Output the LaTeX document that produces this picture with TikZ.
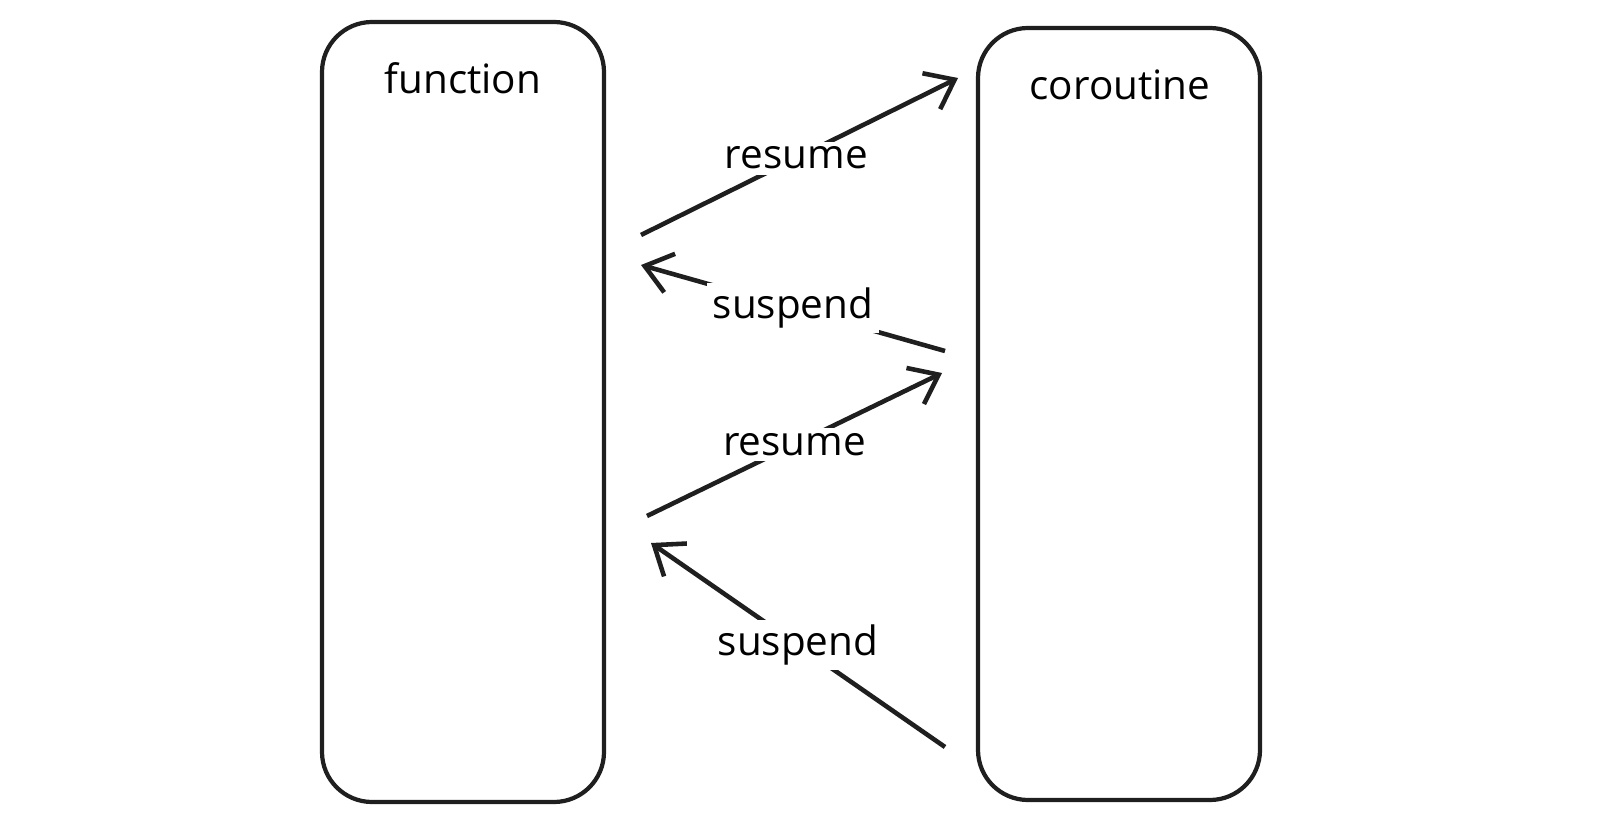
\documentclass[tikz,border=0pt]{standalone}
\usepackage{fontspec}
\setmainfont{Open Sans}
\usetikzlibrary{arrows.meta}
\begin{document}
\begin{tikzpicture}[x=0.01cm,y=-0.01cm,
  box/.style={draw=black!88,line width=1.2pt,rounded corners=0.5cm},
  flow/.style={draw=black!88,line width=1.3pt,-{Straight Barb[length=0.26cm,width=0.4cm,line width=1.3pt]}},
  lbl/.style={fill=white,inner sep=1.5pt,font=\fontsize{11.5}{13}\selectfont}]
\useasboundingbox (0,0) rectangle (1600,840);
\draw[box] (322,22) rectangle (604,802);
\draw[box] (978,28) rectangle (1260,800);
\node[font=\fontsize{11.5}{13}\selectfont] (f) at (463,78) {function};
\node[font=\fontsize{11.5}{13}\selectfont] (c) at (1120,85) {coroutine};
\coordinate (a1) at (641,235); \coordinate (b1) at (958,78);
\coordinate (a2) at (945,351); \coordinate (b2) at (641,265);
\coordinate (a3) at (647,516); \coordinate (b3) at (942,373);
\coordinate (a4) at (945,747); \coordinate (b4) at (651,543);
\draw[flow] (a1) -- (b1) node[lbl,pos=0.49] (l1) {resume};
\draw[flow] (a2) -- (b2) node[lbl,pos=0.5] (l2) {suspend};
\draw[flow] (a3) -- (b3) node[lbl,pos=0.5] (l3) {resume};
\draw[flow] (a4) -- (b4) node[lbl,pos=0.5] (l4) {suspend};
\end{tikzpicture}
\end{document}
